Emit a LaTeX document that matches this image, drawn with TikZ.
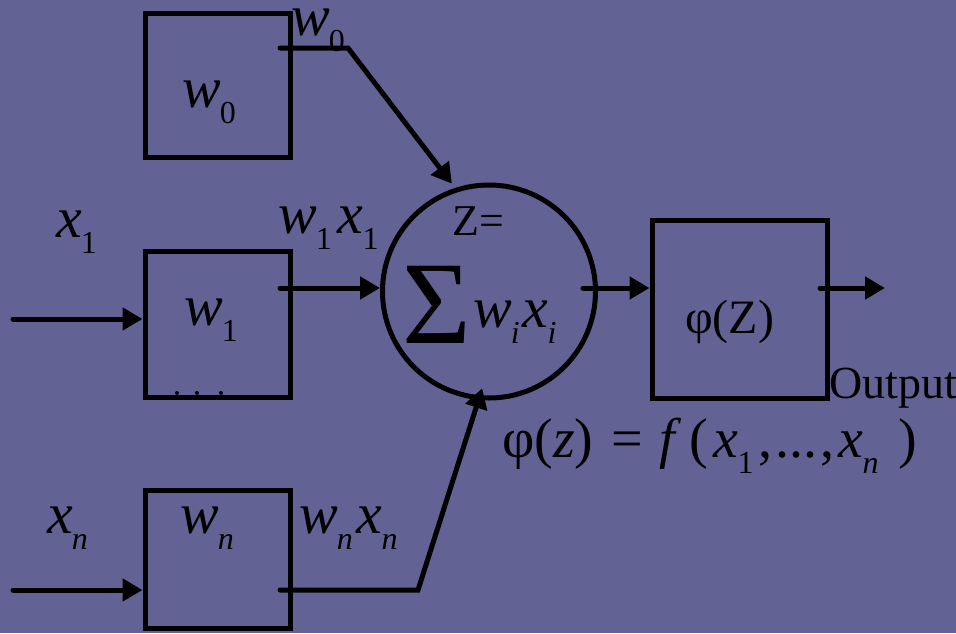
\documentclass[tikz,border=0pt]{standalone}
\usepackage{fontspec}
\setmainfont{Liberation Serif}[ItalicFont={Liberation Serif Italic},BoldFont={Liberation Serif Bold}]
\usetikzlibrary{arrows.meta,calc}
\definecolor{bg}{RGB}{98,99,148}
\newcommand\vs[2]{{\itshape #1}\kern-1pt\raisebox{-16pt}{\fontsize{32}{32}\selectfont #2}}
\begin{document}
\begin{tikzpicture}[x=1pt,y=-1pt,
  box/.style={draw,line width=5pt,inner sep=0pt,rectangle},
  lab/.style={anchor=base west,inner sep=0pt,font=\fontsize{58}{58}\selectfont},
  wire/.style={line width=5pt,line cap=round,line join=miter},
  arr/.style={wire,-{Triangle[length=20pt,width=22pt]}}]
\fill[bg] (0,0) rectangle (956,633);
\useasboundingbox (0,0) rectangle (956,633);
% boxes
\node[box,minimum width=145pt,minimum height=144pt] (b0) at (217.5,85) {};
\node[box,minimum width=145pt,minimum height=146pt] (b1) at (217.5,324) {};
\node[box,minimum width=145pt,minimum height=138pt] (bn) at (217.5,559) {};
\node[box,minimum width=175pt,minimum height=178pt] (phi) at (739.5,309) {};
\node[draw,circle,line width=5pt,inner sep=0pt,minimum size=213pt] (c) at (489,291.5) {};
% coordinates
\coordinate (in1) at (13,319);
\coordinate (inn) at (13,590);
\coordinate (o0) at (280,48);
\coordinate (k0) at (348,48);
\coordinate (o1) at (280,288);
\coordinate (on) at (280,590);
\coordinate (kn) at (418,590);
\coordinate (oc) at (583,288);
\coordinate (op) at (820,288);
\coordinate (oend) at (885,288);
\coordinate (t0) at ($(c.center)+(251:114)$);
\coordinate (tn) at ($(c.center)+(94:97)$);
% connectors
\draw[arr] (in1) -- (in1 -| b1.west);
\draw[arr] (inn) -- (inn -| bn.west);
\draw[arr] (o0) -- (k0) -- (t0);
\draw[arr] (o1) -- (o1 -| c.west);
\draw[arr] (on) -- (kn) -- (tn);
\draw[arr] (oc) -- (oc -| phi.west);
\draw[arr] (op) -- (oend);
% dots
\foreach \px in {177,197,221} \fill (\px,393) circle (2pt);
% labels
\node[lab] (lw0) at (182,107) {\vs{w}{0}};
\node[lab] (lw0t) at (291,35) {\vs{w}{0}};
\node[lab] (lx1) at (56,237) {\vs{x}{1}};
\node[lab] (lw1x1) at (278,233) {\vs{w}{1}\kern6pt\vs{x}{1}};
\node[lab] (lw1) at (184,325) {\vs{w}{1}};
\node[lab] (lxn) at (47,533) {\vs{x}{\itshape n}};
\node[lab] (lwn) at (180,533) {\vs{w}{\itshape n}};
\node[lab] (lwnxn) at (299,533) {\vs{w}{\itshape n}\kern4pt\vs{x}{\itshape n}};
\node[lab,font=\fontsize{44}{44}\selectfont] (lz) at (452,235) {Z=};
\node[lab,font=\fontsize{118}{118}\selectfont] (lsig) at (402,343) {Σ};
\node[lab] (lwx) at (473,327) {\vs{w}{\itshape i}\kern3pt\vs{x}{\itshape i}};
\node[lab,font=\fontsize{48}{48}\selectfont] (lphi) at (685,333) {φ(Z)};
\node[lab,font=\fontsize{46}{46}\selectfont] (lout) at (829,398) {Output};
\node[lab,font=\fontsize{56}{56}\selectfont] (leq) at (502,457) {φ(\textit{z})\hspace{18pt}=\hspace{16pt}\textit{f}\hspace{8pt}(\hspace{6pt}\vs{x}{1}\hspace{5pt},\hspace{3pt}...\hspace{3pt},\hspace{4pt}\vs{x}{\itshape n}\hspace{20pt})};
\end{tikzpicture}
\end{document}
